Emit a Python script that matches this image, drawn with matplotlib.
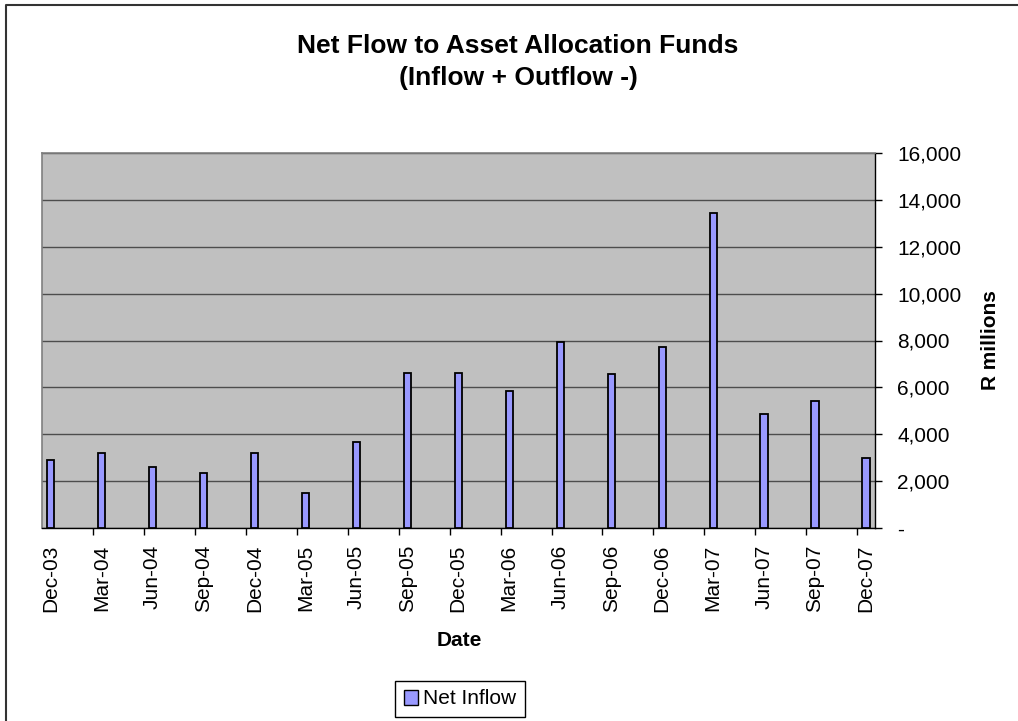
#!/usr/bin/env python3
"""Net flow to asset allocation funds - quarterly bars, Excel-style grey plot area."""

import matplotlib

matplotlib.use("Agg")
import matplotlib.pyplot as plt
import numpy as np
from matplotlib.lines import Line2D
from matplotlib.patches import Patch
from matplotlib.ticker import FixedLocator, FuncFormatter

# --- data ------------------------------------------------------------------ #
quarters = ["Dec-03", "Mar-04", "Jun-04", "Sep-04", "Dec-04", "Mar-05", "Jun-05",
            "Sep-05", "Dec-05", "Mar-06", "Jun-06", "Sep-06", "Dec-06", "Mar-07",
            "Jun-07", "Sep-07", "Dec-07"]
net_inflow = [2900, 3210, 2620, 2350, 3210, 1480, 3680, 6630, 6630, 5830,
              7920, 6550, 7710, 13420, 4850, 5420, 2970]
y_ticks = [0, 2000, 4000, 6000, 8000, 10000, 12000, 14000, 16000]

BAR_COLOR = "#9999FF"
PLOT_BG = "#C0C0C0"
GRID = "#4D4D4D"

plt.rcParams["font.family"] = ["Liberation Sans", "DejaVu Sans"]

W, H = 1018, 721
fig = plt.figure(figsize=(W / 100, H / 100), dpi=100)
ax = fig.add_axes([42 / W, 1 - 528 / H, (875 - 42) / W, (528 - 153) / H])
ax.set_facecolor(PLOT_BG)

x = np.arange(len(quarters))
ax.bar(x, net_inflow, width=0.14, color=BAR_COLOR, edgecolor="black",
       linewidth=1.3, zorder=3)

ax.set_xlim(-0.167, len(quarters) - 1 + 0.177)
ax.set_ylim(0, 16000)

# y axis on the right, Excel accounting-style labels
ax.yaxis.tick_right()
ax.set_yticks(y_ticks)
ax.yaxis.set_major_formatter(FuncFormatter(lambda v, _: "-" if v == 0 else f"{v:,.0f}"))
ax.tick_params(axis="y", which="major", length=5, width=1, color="black",
               labelsize=15, pad=11)
ax.yaxis.grid(True, color=GRID, linewidth=1.0, zorder=1)
ax.set_axisbelow(True)

# x: labels under bars, tick marks on the boundaries
ax.set_xticks(x)
ax.set_xticklabels(quarters, rotation=90, fontsize=15)
ax.tick_params(axis="x", which="major", length=0, pad=12)
ax.xaxis.set_minor_locator(FixedLocator(x - 0.17))
ax.tick_params(axis="x", which="minor", length=5, width=1, color="black")

for side in ("top", "left"):
    ax.spines[side].set_color("#808080")
    ax.spines[side].set_linewidth(1.2)
for side in ("bottom", "right"):
    ax.spines[side].set_color("black")
    ax.spines[side].set_linewidth(1.0)

# titles and axis labels
title_x = 518 / W
fig.text(title_x, 1 - 53 / H, "Net Flow to Asset Allocation Funds", ha="center",
         va="baseline", fontsize=19, fontweight="bold")
fig.text(title_x, 1 - 85 / H, "(Inflow + Outflow -)", ha="center",
         va="baseline", fontsize=19, fontweight="bold")
fig.text(459 / W, 1 - 640 / H, "Date", ha="center", va="center",
         fontsize=15, fontweight="bold")
fig.text(991 / W, 1 - 340 / H, "R millions", ha="center", va="center",
         rotation=90, fontsize=15, fontweight="bold")

handle = Patch(facecolor=BAR_COLOR, edgecolor="black", linewidth=1.0)
leg = fig.legend([handle], ["Net Inflow"], loc="center",
                 bbox_to_anchor=(460 / W, 1 - 699 / H), fontsize=15,
                 fancybox=False, framealpha=1, edgecolor="black",
                 handlelength=0.7, handleheight=0.7, handletextpad=0.25,
                 borderpad=0.4, borderaxespad=0)
leg.get_frame().set_linewidth(1.0)

# chart-area frame (only top and left show in the crop)
fig.add_artist(Line2D([6 / W, 6 / W, 1.0], [0.0, 1 - 5 / H, 1 - 5 / H],
                      transform=fig.transFigure, color="#333333", linewidth=1.5))

fig.savefig("out.png", dpi=100)
